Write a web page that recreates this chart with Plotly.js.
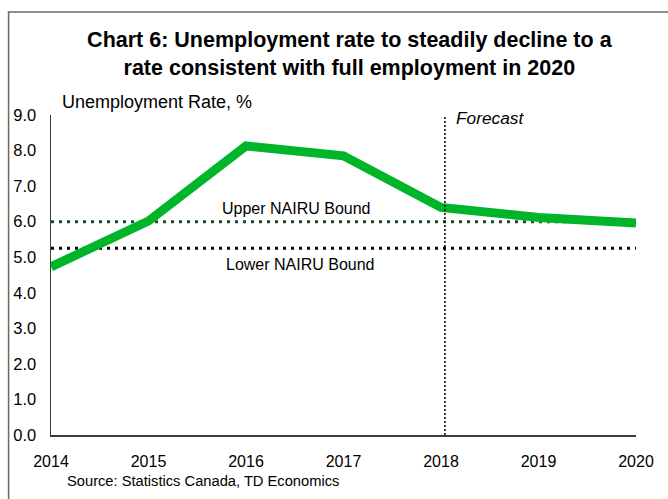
<!DOCTYPE html>
<html><head><meta charset="utf-8">
<script src="https://cdn.plot.ly/plotly-3.0.1.min.js"></script>
<style>body{margin:0;background:#fff}#c{width:668px;height:499px}</style>
</head><body><div id="c"></div>
<script>
const years = [2014, 2015, 2016, 2017, 2018, 2019, 2020];
const unemploymentRate = [4.73, 6.02, 8.13, 7.85, 6.40, 6.12, 5.96];
const upperNairu = 6.0;
const lowerNairu = 5.25;
const forecastStart = 2018;
const yTicks = [0,1,2,3,4,5,6,7,8,9];

const traces = [
  {x:[years[0], years[years.length-1]], y:[upperNairu, upperNairu], mode:'lines',
   line:{color:'#1f4a2a', width:3, dash:'3px,5px'}, hoverinfo:'skip'},
  {x:[years[0], years[years.length-1]], y:[lowerNairu, lowerNairu], mode:'lines',
   line:{color:'#000000', width:3, dash:'3px,5px'}, hoverinfo:'skip'},
  {x:years, y:unemploymentRate, mode:'lines',
   line:{color:'#00B52A', width:9}}
];

const layout = {
  width:668, height:499, showlegend:false,
  paper_bgcolor:'#fff', plot_bgcolor:'#fff',
  margin:{l:51, r:32, t:115, b:64},
  font:{family:'Liberation Sans, Arial, sans-serif', color:'#000'},
  title:{text:'<b>Chart 6: Unemployment rate to steadily decline to a<br>rate consistent with full employment in 2020</b>',
         font:{size:21.5, color:'#000'}, x:0.523, xanchor:'center', y:0.905, yanchor:'top'},
  xaxis:{range:[years[0], years[years.length-1]], tickvals:years, ticktext:years.map(String),
         showgrid:false, zeroline:false, showline:true, linecolor:'#3c4030', linewidth:1.5,
         ticks:'', tickfont:{size:16}, ticklabelstandoff:11},
  yaxis:{range:[0,9], tickvals:yTicks, tickformat:'.1f', showgrid:false, zeroline:false,
         showline:true, linecolor:'#3c4030', linewidth:1.5, ticks:'', tickfont:{size:16.5},
         ticklabelstandoff:10},
  shapes:[
    {type:'line', xref:'x', yref:'y', x0:forecastStart+0.04, x1:forecastStart+0.04, y0:0, y1:9,
     line:{color:'#000', width:1.5, dash:'2px,2px'}},
    {type:'line', xref:'paper', yref:'paper', x0:-0.074, x1:1.1, y0:1.322, y1:1.322,
     line:{color:'#6b6b5e', width:1.5}},
    {type:'line', xref:'paper', yref:'paper', x0:-0.0725, x1:-0.0725, y0:-0.3, y1:1.322,
     line:{color:'#6b6b5e', width:1.5}}
  ],
  annotations:[
    {text:'Unemployment Rate, %', xref:'paper', yref:'paper', x:0.016, y:1.04, xanchor:'left', yanchor:'middle',
     showarrow:false, font:{size:18}},
    {text:'<i>Forecast</i>', xref:'x', yref:'paper', x:2018.5, y:0.99, xanchor:'center', yanchor:'middle',
     showarrow:false, font:{size:17.3}},
    {text:'Upper NAIRU Bound', xref:'x', yref:'y', x:2016.52, y:6.38, xanchor:'center', yanchor:'middle',
     showarrow:false, font:{size:16}},
    {text:'Lower NAIRU Bound', xref:'x', yref:'y', x:2016.56, y:4.8, xanchor:'center', yanchor:'middle',
     showarrow:false, font:{size:16}},
    {text:'Source: Statistics Canada, TD Economics', xref:'paper', yref:'paper', x:0.024, y:-0.143,
     xanchor:'left', yanchor:'middle', showarrow:false, font:{size:14.7}}
  ]
};
Plotly.newPlot('c', traces, layout, {displayModeBar:false, staticPlot:true});
</script></body></html>
